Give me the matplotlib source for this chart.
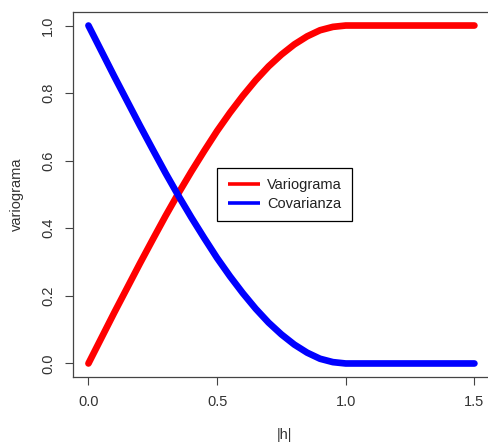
import matplotlib.pyplot as plt

plt.rcParams['font.family'] = ['Liberation Sans', 'DejaVu Sans']

# distance |h| and values
h = [0.0, 0.05, 0.1, 0.15, 0.2, 0.25, 0.3, 0.35, 0.4, 0.45, 0.5,
     0.55, 0.6, 0.65, 0.7, 0.75, 0.8, 0.85, 0.9, 0.95, 1.0,
     1.1, 1.2, 1.3, 1.4, 1.5]
variograma = [0.0, 0.075, 0.15, 0.223, 0.296, 0.367, 0.437, 0.504, 0.568, 0.629, 0.688,
              0.742, 0.792, 0.838, 0.879, 0.914, 0.944, 0.968, 0.986, 0.996, 1.0,
              1.0, 1.0, 1.0, 1.0, 1.0]
covarianza = [1.0, 0.925, 0.85, 0.777, 0.704, 0.633, 0.563, 0.496, 0.432, 0.371, 0.312,
              0.258, 0.208, 0.162, 0.121, 0.086, 0.056, 0.032, 0.014, 0.004, 0.0,
              0.0, 0.0, 0.0, 0.0, 0.0]

xticks = [0.0, 0.5, 1.0, 1.5]
yticks = [0.0, 0.2, 0.4, 0.6, 0.8, 1.0]

fig = plt.figure(figsize=(4.88, 4.43), dpi=100)
ax = fig.add_axes([73/488, 66/443, 422/488, 365/443])

ax.plot(h, variograma, color='red', lw=4.8, solid_capstyle='round', solid_joinstyle='round', label='Variograma')
ax.plot(h, covarianza, color='blue', lw=4.8, solid_capstyle='round', solid_joinstyle='round', label='Covarianza')

ax.set_xlim(-0.06, 1.58)
ax.set_ylim(-0.04, 1.04)
ax.set_xticks(xticks)
ax.set_xticklabels(['%.1f' % v for v in xticks])
ax.set_yticks(yticks)
ax.set_yticklabels(['%.1f' % v for v in yticks], rotation=90, va='center')
ax.tick_params(direction='out', length=6, width=0.8, color='#444444',
               labelsize=10.5, labelcolor='#333333', pad=7)
for s in ax.spines.values():
    s.set_color('#444444')
    s.set_linewidth(0.9)
# the box's right side is cut off in the original
ax.spines['right'].set_visible(False)

ax.set_xlabel('|h|', fontsize=10.5, color='#333333', labelpad=14)
ax.set_ylabel('variograma', fontsize=10.5, color='#333333', labelpad=12)

leg = ax.legend(loc='upper left', bbox_to_anchor=(0.342, 0.572), borderaxespad=0,
                fontsize=10.5, fancybox=False, framealpha=1, edgecolor='black',
                handlelength=2.2, handletextpad=0.5, borderpad=0.7, labelspacing=0.3)
leg.get_frame().set_linewidth(0.9)
for ln in leg.get_lines():
    ln.set_linewidth(2.6)
    ln.set_solid_capstyle('butt')
for t in leg.get_texts():
    t.set_color('#222222')

fig.savefig('out.png', dpi=100)
